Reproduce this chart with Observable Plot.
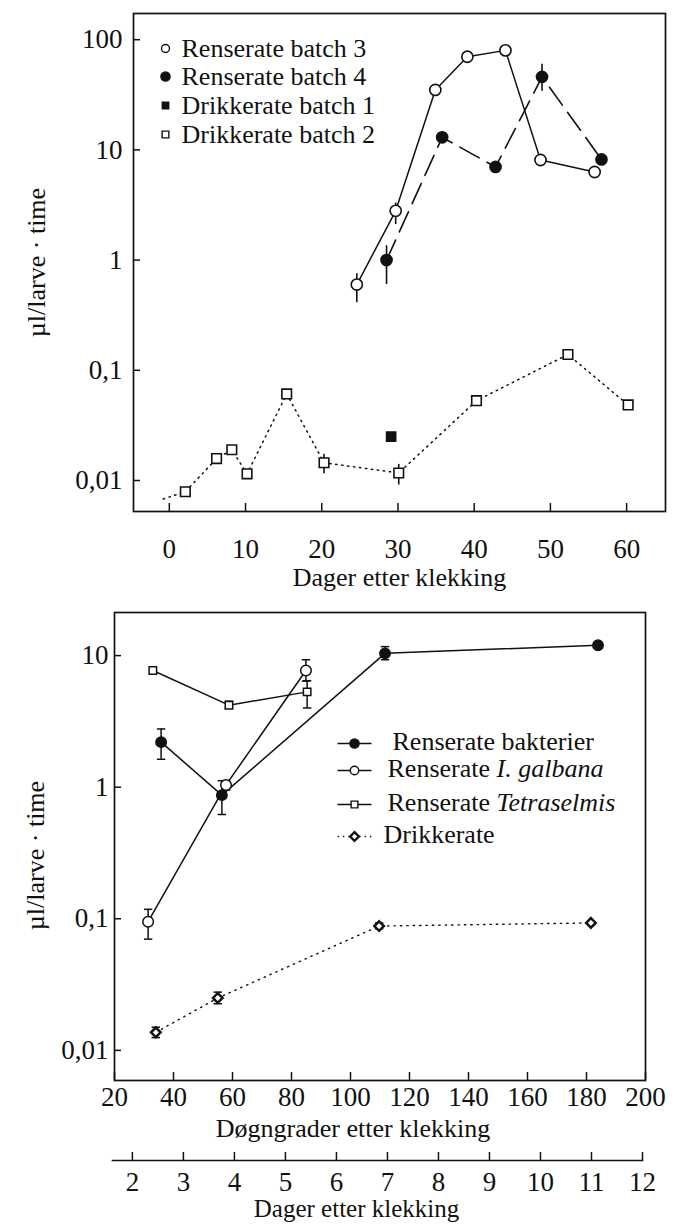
<!DOCTYPE html>
<html><head><meta charset="utf-8">
<script src="https://cdn.jsdelivr.net/npm/d3@7"></script>
<script src="https://cdn.jsdelivr.net/npm/@observablehq/plot@0.6"></script>
<style>
html,body{margin:0;padding:0;background:#fff;}
#chart{width:673px;}
#chart svg{display:block;}
#chart svg, #chart svg text{font-family:'Liberation Serif','Times New Roman',serif !important;}
</style></head><body><div id="chart"></div>
<script>
// ---------- Top panel data (x: Dager etter klekking) ----------
const b3Days = [24.6, 29.7, 34.9, 39.1, 44.1, 48.7, 55.8];
const b3Rate = [0.6, 2.8, 35, 70, 80, 8.1, 6.3];
const b3Lo   = [0.41, 2.1, null, null, null, null, null];
const b3Hi   = [0.75, 3.3, null, null, null, null, null];

const b4Days = [28.5, 35.8, 42.8, 48.9, 56.7];
const b4Rate = [1.0, 13, 7.0, 46, 8.2];
const b4Lo   = [0.6, null, 6.2, 34, null];
const b4Hi   = [1.35, null, 7.7, 60, null];

const d1Days = [29.1];
const d1Rate = [0.025];

const d2Days = [2.1, 6.2, 8.2, 10.2, 15.4, 20.3, 30.1, 40.3, 52.3, 60.2];
const d2Rate = [0.0079, 0.0158, 0.019, 0.0115, 0.061, 0.0145, 0.0117, 0.053, 0.139, 0.0485];
const d2Lo   = [null, null, null, null, null, 0.0115, 0.0091, null, null, null];
const d2Hi   = [null, null, null, null, null, 0.0173, 0.0140, null, null, null];
const d2LeadDays = [-0.8];      // dotted line enters from the left
const d2LeadRate = [0.0068];

const topXTicks = [0, 10, 20, 30, 40, 50, 60];
const topYTicks = [0.01, 0.1, 1, 10, 100];
const topLegend = ["Renserate batch 3", "Renserate batch 4", "Drikkerate batch 1", "Drikkerate batch 2"];

// ---------- Bottom panel data (x: Døgngrader etter klekking) ----------
const bakDeg  = [35.8, 56.4, 111.7, 183.9];
const bakRate = [2.2, 0.87, 10.4, 12];
const bakLo   = [1.63, 0.62, 9.3, null];
const bakHi   = [2.77, 1.12, 11.7, null];

const galDeg  = [31.4, 57.8, 84.9];
const galRate = [0.095, 1.04, 7.7];
const galLo   = [0.070, 0.95, 6.4];
const galHi   = [0.118, 1.12, 9.3];

const tetDeg  = [33, 58.8, 85.3];
const tetRate = [7.7, 4.2, 5.3];
const tetLo   = [null, 4.0, 4.0];
const tetHi   = [null, 4.5, 6.45];

const drkDeg  = [34, 55, 109.7, 181.5];
const drkRate = [0.0137, 0.025, 0.088, 0.093];
const drkLo   = [0.0125, 0.0226, 0.084, null];
const drkHi   = [0.0150, 0.0277, 0.093, null];

const botXTicks = [20, 40, 60, 80, 100, 120, 140, 160, 180, 200];
const botYTicks = [0.01, 0.1, 1, 10];
const botLegendMain   = ["Renserate bakterier", "Renserate ", "Renserate ", "Drikkerate"];
const botLegendItalic = ["", "I. galbana", "Tetraselmis", ""];

const dayTicks = [2, 3, 4, 5, 6, 7, 8, 9, 10, 11, 12];

// ---------- helpers ----------
const FONT = "'Liberation Serif', 'Times New Roman', serif";
const rows = (xs, ys, lo, hi) => xs.map((x, i) => ({x, y: ys[i], lo: lo ? lo[i] : null, hi: hi ? hi[i] : null}));
const withErr = a => a.filter(d => d.lo != null && d.hi != null);
const fmt = d => String(d).replace(".", ",");
const hline = {draw(ctx, size) { const w = Math.sqrt(size / Math.PI); ctx.moveTo(-w, 0); ctx.lineTo(w, 0); }};
const ink = "#111";
const TXT = {fontFamily: FONT, fill: ink, lineAnchor: "middle"};

const b3 = rows(b3Days, b3Rate, b3Lo, b3Hi);
const b4 = rows(b4Days, b4Rate, b4Lo, b4Hi);
const d1 = rows(d1Days, d1Rate);
const d2 = rows(d2Days, d2Rate, d2Lo, d2Hi);
const d2Line = rows(d2LeadDays, d2LeadRate).concat(d2);

const bak = rows(bakDeg, bakRate, bakLo, bakHi);
const gal = rows(galDeg, galRate, galLo, galHi);
const tet = rows(tetDeg, tetRate, tetLo, tetHi);
const drk = rows(drkDeg, drkRate, drkLo, drkHi);

const style = {fontFamily: FONT, fontSize: "25px", background: "#fff", color: ink, overflow: "visible"};

// ---------- top panel ----------
const topSym = [
  {symbol: "circle", fill: "#fff", stroke: ink, r: 4},
  {symbol: "circle", fill: ink, stroke: ink, r: 4.6},
  {symbol: "square", fill: ink, stroke: ink, r: 3.6},
  {symbol: "square", fill: "#fff", stroke: ink, r: 3.8}
];
const topLegendDy = [35, 63, 92, 121];
const topLegendMarks = topLegend.flatMap((lab, i) => [
  Plot.dot([lab], {frameAnchor: "top-left", dx: 32, dy: topLegendDy[i], strokeWidth: 1.4, ...topSym[i]}),
  Plot.text([lab], {frameAnchor: "top-left", dx: 48, dy: topLegendDy[i], textAnchor: "start", fontSize: 26, ...TXT})
]);

const topPanel = Plot.plot({
  width: 673, height: 600,
  marginLeft: 133, marginRight: 8, marginTop: 13, marginBottom: 89,
  style,
  x: {domain: [-4.7, 65.1]},
  y: {type: "log", domain: [0.005232, 172.9]},
  marks: [
    Plot.frame({stroke: ink, strokeWidth: 1.7}),
    Plot.axisY(topYTicks, {anchor: "left", tickSize: -7, tickPadding: 18, tickFormat: fmt, fontSize: 27, fontFamily: FONT, label: null, strokeWidth: 1.5}),
    Plot.axisX(topXTicks, {anchor: "bottom", tickSize: -8, tickPadding: 35, fontSize: 27, fontFamily: FONT, label: null, strokeWidth: 1.5}),
    Plot.text(["Dager etter klekking"], {frameAnchor: "bottom", dy: 66, fontSize: 26, textAnchor: "middle", ...TXT}),
    Plot.text(["\u00b5l/larve \u00b7 time"], {frameAnchor: "left", rotate: -90, dx: -97, fontSize: 26, textAnchor: "middle", ...TXT}),
    Plot.line(d2Line, {x: "x", y: "y", stroke: ink, strokeWidth: 1.5, strokeDasharray: "1.4,4.6"}),
    Plot.line(b3, {x: "x", y: "y", stroke: ink, strokeWidth: 1.5}),
    Plot.line(b4, {x: "x", y: "y", stroke: ink, strokeWidth: 1.6, strokeDasharray: "22,9"}),
    Plot.ruleX(withErr(b3), {x: "x", y1: "lo", y2: "hi", stroke: ink, strokeWidth: 1.6}),
    Plot.ruleX(withErr(b4), {x: "x", y1: "lo", y2: "hi", stroke: ink, strokeWidth: 1.6}),
    Plot.ruleX(withErr(d2), {x: "x", y1: "lo", y2: "hi", stroke: ink, strokeWidth: 1.6}),
    Plot.dot(d2, {x: "x", y: "y", symbol: "square", r: 5.4, fill: "#fff", stroke: ink, strokeWidth: 1.6}),
    Plot.dot(d1, {x: "x", y: "y", symbol: "square", r: 5.2, fill: ink, stroke: ink}),
    Plot.dot(b3, {x: "x", y: "y", symbol: "circle", r: 5.6, fill: "#fff", stroke: ink, strokeWidth: 1.6}),
    Plot.dot(b4, {x: "x", y: "y", symbol: "circle", r: 5.6, fill: ink, stroke: ink}),
    ...topLegendMarks
  ]
});

// ---------- bottom panel ----------
const cv = document.createElement("canvas").getContext("2d");
cv.font = "26px 'Liberation Serif'";
const botLegendDx = [278, 273, 273, 269];
const botLegendDy = [129, 156, 190, 222];
const botSym = [
  {symbol: "circle", fill: ink, stroke: ink, r: 4.6, dash: null},
  {symbol: "circle", fill: "#fff", stroke: ink, r: 4.2, dash: null},
  {symbol: "square", fill: "#fff", stroke: ink, r: 3.8, dash: null},
  {symbol: "diamond2", fill: "#fff", stroke: ink, r: 3.9, dash: "1.4,4"}
];
const botLegendMarks = botLegendMain.flatMap((lab, i) => {
  const s = botSym[i];
  const m = [
    Plot.dot([lab], {frameAnchor: "top-left", dx: 240, dy: botLegendDy[i] + 2, symbol: hline, r: 17, stroke: ink, strokeWidth: 1.4, strokeDasharray: s.dash}),
    Plot.dot([lab], {frameAnchor: "top-left", dx: 240, dy: botLegendDy[i] + 2, symbol: s.symbol, r: s.r, fill: s.fill, stroke: ink, strokeWidth: s.symbol === "diamond2" ? 2.4 : 1.4}),
    Plot.text([lab], {frameAnchor: "top-left", dx: botLegendDx[i], dy: botLegendDy[i], textAnchor: "start", fontSize: 26, ...TXT})
  ];
  if (botLegendItalic[i]) {
    const w = cv.measureText(lab).width;
    m.push(Plot.text([botLegendItalic[i]], {frameAnchor: "top-left", dx: botLegendDx[i] + w, dy: botLegendDy[i], textAnchor: "start", fontSize: 26, fontStyle: "italic", ...TXT}));
  }
  return m;
});

const errMarks = (data) => [
  Plot.ruleX(withErr(data), {x: "x", y1: "lo", y2: "hi", stroke: ink, strokeWidth: 1.5}),
  Plot.dot(withErr(data), {x: "x", y: "lo", symbol: hline, r: 4.2, stroke: ink, strokeWidth: 1.5}),
  Plot.dot(withErr(data), {x: "x", y: "hi", symbol: hline, r: 4.2, stroke: ink, strokeWidth: 1.5})
];

const bottomPanel = Plot.plot({
  width: 673, height: 550,
  marginLeft: 114, marginRight: 28, marginTop: 12, marginBottom: 70,
  style,
  x: {domain: [20, 200]},
  y: {type: "log", domain: [0.0059, 21.26]},
  marks: [
    Plot.frame({stroke: ink, strokeWidth: 1.7}),
    Plot.axisY(botYTicks, {anchor: "left", tickSize: -7, tickPadding: 13, tickFormat: fmt, fontSize: 27, fontFamily: FONT, label: null, strokeWidth: 1.5}),
    Plot.axisX(botXTicks, {anchor: "bottom", tickSize: -8, tickPadding: 14.5, fontSize: 27, fontFamily: FONT, label: null, strokeWidth: 1.5}),
    Plot.text(["D\u00f8gngrader etter klekking"], {frameAnchor: "bottom", dx: -27, dy: 48, fontSize: 26, textAnchor: "middle", ...TXT}),
    Plot.text(["\u00b5l/larve \u00b7 time"], {frameAnchor: "left", rotate: -90, dx: -79, dy: 9, fontSize: 26, textAnchor: "middle", ...TXT}),
    Plot.line(drk, {x: "x", y: "y", stroke: ink, strokeWidth: 1.4, strokeDasharray: "1.4,5"}),
    Plot.line(bak, {x: "x", y: "y", stroke: ink, strokeWidth: 1.5}),
    Plot.line(gal, {x: "x", y: "y", stroke: ink, strokeWidth: 1.5}),
    Plot.line(tet, {x: "x", y: "y", stroke: ink, strokeWidth: 1.5}),
    ...errMarks(bak), ...errMarks(gal), ...errMarks(tet), ...errMarks(drk),
    Plot.dot(tet, {x: "x", y: "y", symbol: "square", r: 4.2, fill: "#fff", stroke: ink, strokeWidth: 1.5}),
    Plot.dot(gal, {x: "x", y: "y", symbol: "circle", r: 5.3, fill: "#fff", stroke: ink, strokeWidth: 1.5}),
    Plot.dot(bak, {x: "x", y: "y", symbol: "circle", r: 5.2, fill: ink, stroke: ink}),
    Plot.dot(drk, {x: "x", y: "y", symbol: "diamond2", r: 4.3, fill: "#fff", stroke: ink, strokeWidth: 2.5}),
    ...botLegendMarks
  ]
});

// ---------- secondary axis: Dager etter klekking ----------
const daysAxis = Plot.plot({
  width: 673, height: 74,
  marginLeft: 112, marginRight: 31, marginTop: 0, marginBottom: 64,
  style,
  x: {domain: [1.61, 12]},
  marks: [
    Plot.frame({anchor: "bottom", stroke: ink, strokeWidth: 1.7}),
    Plot.axisX(dayTicks, {anchor: "bottom", tickSize: -8, tickPadding: 19, fontSize: 27, fontFamily: FONT, label: null, strokeWidth: 1.5}),
    Plot.text(["Dager etter klekking"], {frameAnchor: "bottom", dx: -21, dy: 48, fontSize: 25, textAnchor: "middle", ...TXT})
  ]
});

document.getElementById("chart").append(topPanel, bottomPanel, daysAxis);
</script>
</body></html>
